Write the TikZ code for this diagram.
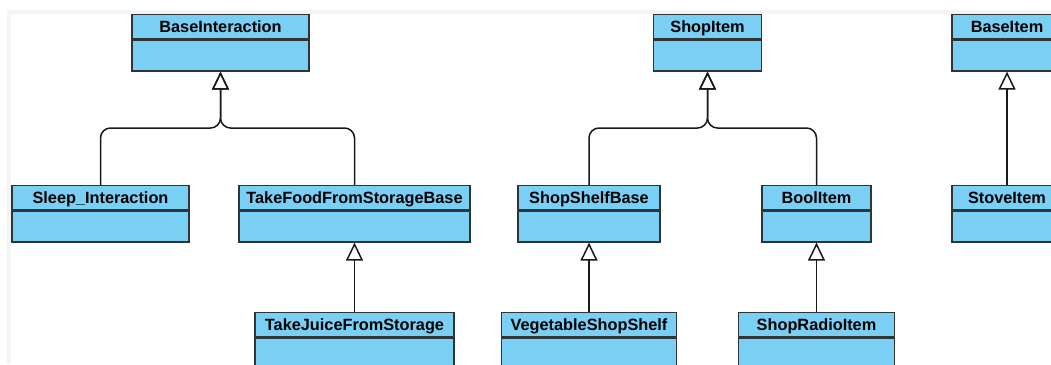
\documentclass[tikz,border=0pt]{standalone}
\usepackage{fontspec}
\setmainfont{Liberation Sans}
\usetikzlibrary{positioning, arrows.meta}

\definecolor{classfill}{HTML}{7ACFF5}
\definecolor{classline}{HTML}{2F3437}
\definecolor{framecol}{HTML}{F3F4F6}

\tikzset{
  classhead/.style={draw=classline, fill=classfill, line width=1.3pt,
    minimum height=24pt, inner sep=0pt, text height=11.7pt, text depth=0pt,
    font=\fontsize{16.3}{19}\selectfont\bfseries},
  classbody/.style={draw=classline, fill=classfill, line width=1.3pt,
    minimum height=31pt, inner sep=0pt},
  inherit/.style={draw=black!90, line width=1.5pt, rounded corners=10pt,
    -{Triangle[open, length=18pt, width=17pt]}}
}

\begin{document}
\begin{tikzpicture}[x=1pt, y=-1pt]
  \useasboundingbox (0,0) rectangle (1051,364);
  \clip (0,0) rectangle (1051,364);
  \fill[white] (0,0) rectangle (1051,364);
  \fill[framecol] (7,10) rectangle (1051,14);
  \fill[framecol] (7,10) rectangle (11,364);

  % top row
  \node[classhead, minimum width=177pt, anchor=north] (bint) at (220.5,14) {BaseInteraction};
  \node[classbody, minimum width=177pt, below=0pt of bint] (bint-b) {};
  \node[classhead, minimum width=108pt, anchor=north] (sitem) at (707.5,14) {ShopItem};
  \node[classbody, minimum width=108pt, below=0pt of sitem] (sitem-b) {};
  \node[classhead, minimum width=110pt, anchor=north] (bitem) at (1007,14) {BaseItem};
  \node[classbody, minimum width=110pt, below=0pt of bitem] (bitem-b) {};

  % middle row
  \node[classhead, minimum width=177pt, anchor=north] (sleep) at (100.5,185) {Sleep\_Interaction};
  \node[classbody, minimum width=177pt, below=0pt of sleep] (sleep-b) {};
  \node[classhead, minimum width=231pt, anchor=north] (food) at (354.5,185) {TakeFoodFromStorageBase};
  \node[classbody, minimum width=231pt, below=0pt of food] (food-b) {};
  \node[classhead, minimum width=142pt, anchor=north] (shelf) at (589,185) {ShopShelfBase};
  \node[classbody, minimum width=142pt, below=0pt of shelf] (shelf-b) {};
  \node[classhead, minimum width=109pt, anchor=north] (bool) at (816.5,185) {BoolItem};
  \node[classbody, minimum width=109pt, below=0pt of bool] (bool-b) {};
  \node[classhead, minimum width=110pt, anchor=north] (stove) at (1007,185) {StoveItem};
  \node[classbody, minimum width=110pt, below=0pt of stove] (stove-b) {};

  % bottom row
  \node[classhead, minimum width=199pt, anchor=north] (juice) at (354.5,312) {TakeJuiceFromStorage};
  \node[classbody, minimum width=199pt, below=0pt of juice] (juice-b) {};
  \node[classhead, minimum width=175pt, anchor=north] (veg) at (589,312) {VegetableShopShelf};
  \node[classbody, minimum width=175pt, below=0pt of veg] (veg-b) {};
  \node[classhead, minimum width=156pt, anchor=north] (radio) at (816.5,312) {ShopRadioItem};
  \node[classbody, minimum width=156pt, below=0pt of radio] (radio-b) {};

  % joints where the branches meet
  \coordinate (bint-j) at (220.5,128);
  \coordinate (sitem-j) at (707.5,128);

  \draw[inherit] (sleep.north) |- (bint-j) -- (bint-b.south);
  \draw[inherit] (food.north) |- (bint-j) -- (bint-b.south);
  \draw[inherit] (shelf.north) |- (sitem-j) -- (sitem-b.south);
  \draw[inherit] (bool.north) |- (sitem-j) -- (sitem-b.south);
  \draw[inherit] (stove.north) -- (bitem-b.south);
  \draw[inherit] (juice.north) -- (food-b.south);
  \draw[inherit] (veg.north) -- (shelf-b.south);
  \draw[inherit] (radio.north) -- (bool-b.south);
\end{tikzpicture}
\end{document}
